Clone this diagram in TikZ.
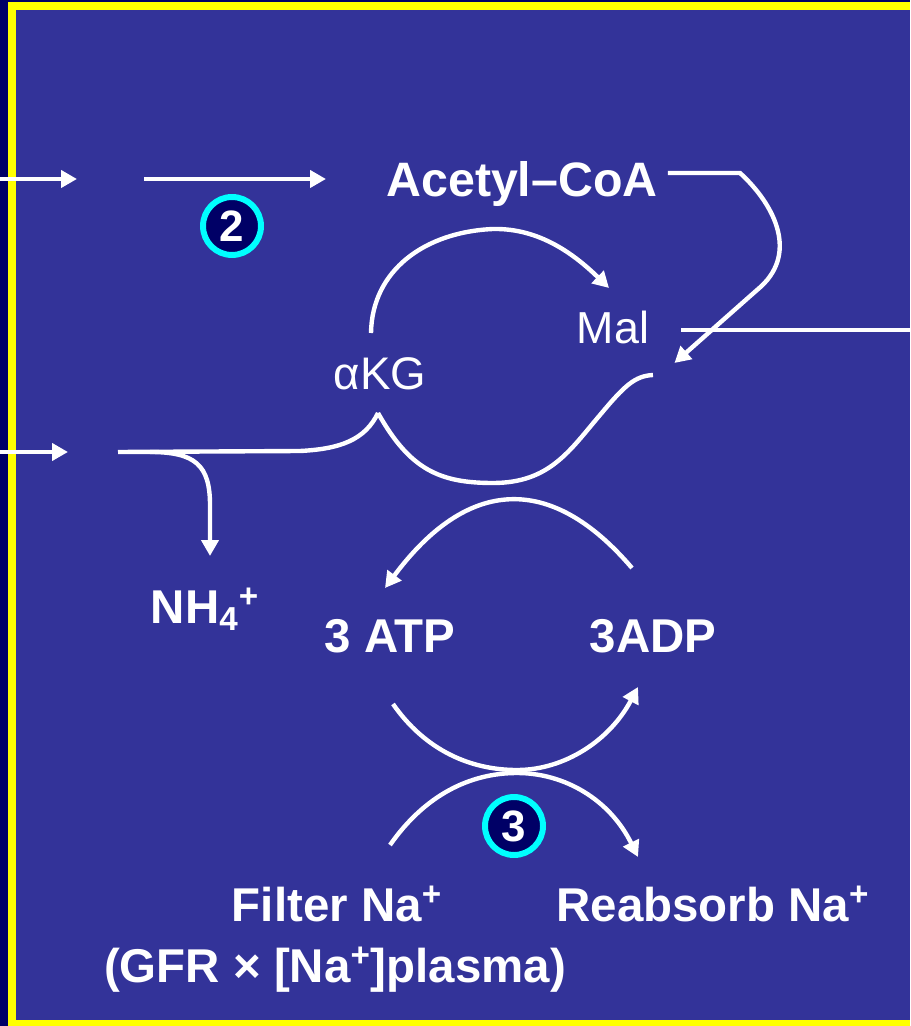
\documentclass[tikz,border=0pt]{standalone}
\usepackage{fontspec}
\setmainfont{Liberation Sans}
\usetikzlibrary{arrows.meta,calc}
\definecolor{slideBlue}{HTML}{333399}
\definecolor{slideNavy}{HTML}{000066}
\definecolor{slideGold}{HTML}{FFFF00}
\definecolor{ringCyan}{HTML}{00FFFF}

\begin{document}
\begin{tikzpicture}[x=0.02cm,y=-0.02cm,>={Triangle[length=0.32cm,width=0.34cm]},
  flow/.style={white,line width=2.5pt},
  lbl/.style={text=white,inner sep=0pt,anchor=base,font=\fontsize{26}{31}\selectfont},
  lblb/.style={lbl,font=\bfseries\fontsize{27}{32}\selectfont},
  stepmark/.style={circle,draw=ringCyan,fill=slideNavy,line width=3.4pt,minimum size=1.16cm,inner sep=0pt,text=white,font=\bfseries\fontsize{25}{25}\selectfont}]
  \useasboundingbox (0,0) rectangle (910,1026);
  \fill[slideNavy] (0,0) rectangle (910,1026);
  \fill[slideGold] (8,2) rectangle (910,1026);
  \fill[slideBlue] (16,10) rectangle (910,1020);

  \node[lblb,font=\bfseries\fontsize{27.5}{33}\selectfont] (acoa) at (522,197) {Acetyl–CoA};
  \node[lbl,font=\fontsize{25.5}{30}\selectfont] (mal) at (613,344) {Mal};
  \node[lbl] (akg) at (380,390) {αKG};
  \node[lblb] (nh) at (205,623) {NH\textsubscript{4}\textsuperscript{+}};
  \node[lblb] (atp) at (390,652) {3 ATP};
  \node[lblb] (adp) at (653,652) {3ADP};
  \node[lblb] (fil) at (337,921) {Filter Na\textsuperscript{+}};
  \node[lblb] (gfr) at (335,982) {(GFR × [Na\textsuperscript{+}]plasma)};
  \node[lblb] (reab) at (713,921) {Reabsorb Na\textsuperscript{+}};
  \node[stepmark] (s2) at (232,226) {2};
  \node[stepmark] (s3) at (514,826) {3};

  \coordinate (inA) at (0,179);
  \coordinate (inAend) at (77,179);
  \coordinate (stepA) at (144,179);
  \coordinate (stepAend) at (326,179);
  \coordinate (inB) at (0,452);
  \coordinate (inBend) at (68,452);
  \coordinate (nhStart) at (118,452);
  \coordinate (malOut) at (910,330);
  \coordinate (cusp) at ($(akg.base)+(-2,23)$);

  \draw[flow,->] (inA) -- (inAend);
  \draw[flow,->] (stepA) -- (stepAend);
  \draw[flow,->] (inB) -- (inBend);
  \draw[flow,->] ($(acoa.base east)+(10,-24)$) -- (740,173)
    .. controls (775,205) and (800,255) .. (757,290) -- ($(mal.base east)+(25,19)$);
  \draw[flow] ($(mal.base east)+(32,-14)$) -- (malOut);
  \draw[flow,->] ($(akg.base)+(-9,-57)$) .. controls (372,270) and (425,232) .. (493,229)
    .. controls (540,228) and (575,255) .. ($(mal.base)+(-4,-56)$);
  \draw[flow] (nhStart) -- (300,451) .. controls (340,449) and (365,440) .. (cusp);
  \draw[flow,->] (150,452) .. controls (195,452) and (210,465) .. (210,505) -- ($(nh.base)+(5,-67)$);
  \draw[flow] (cusp) .. controls (410,470) and (440,483) .. (493,483)
    .. controls (550,483) and (570,450) .. (600,415)
    .. controls (625,385) and (635,376) .. ($(mal.base east)+(3.5,31)$);
  \draw[flow,->] ($(adp.base)+(-21,-84)$) .. controls (550,472) and (467,478) .. ($(atp.base)+(-5,-64)$);
  \draw[flow,->] ($(atp.base)+(3,52)$) .. controls (425,750) and (470,770) .. (517,770)
    .. controls (565,770) and (610,740) .. ($(adp.base)+(-15,35)$);
  \draw[flow,->] ($(fil.base)+(53,-76)$) .. controls (425,795) and (470,773) .. (517,773)
    .. controls (565,773) and (610,800) .. ($(reab.base)+(-75,-64)$);
\end{tikzpicture}
\end{document}
